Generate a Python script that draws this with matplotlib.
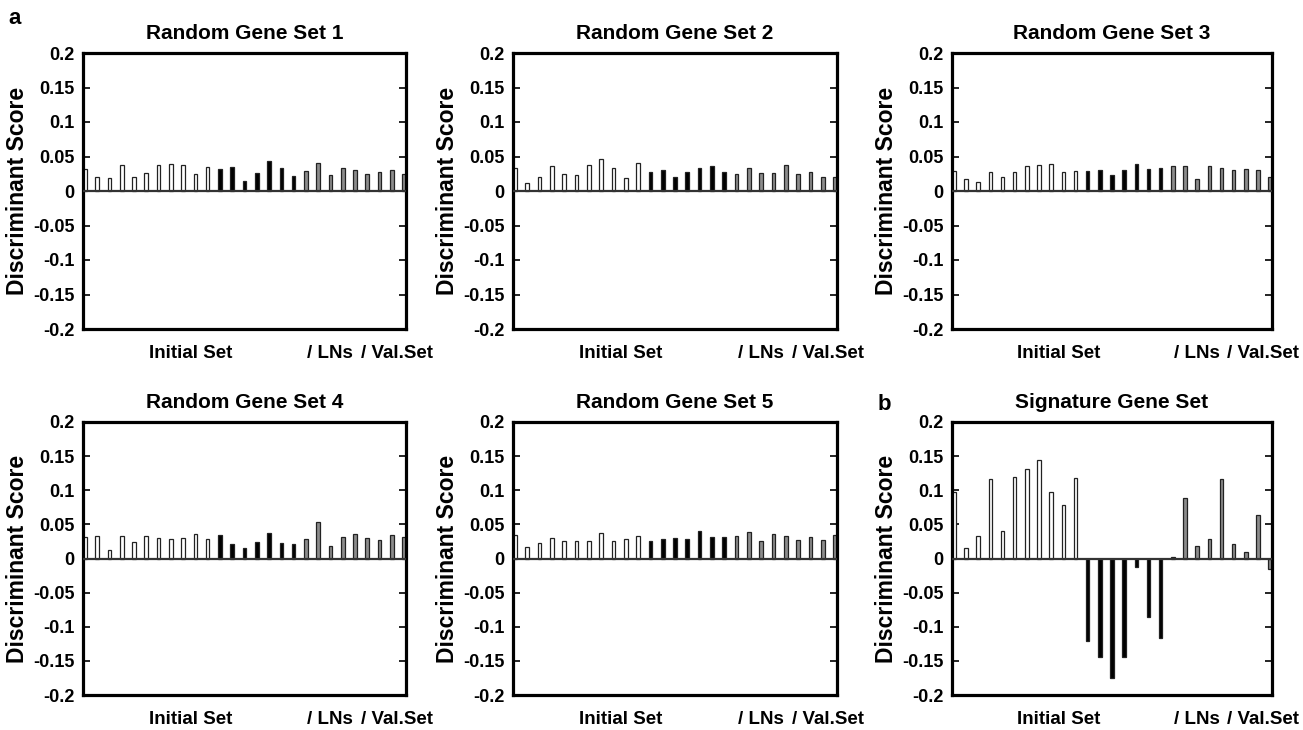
import numpy as np
import matplotlib
matplotlib.use("Agg")
import matplotlib.pyplot as plt

plt.rcParams['font.family'] = ['Liberation Sans', 'DejaVu Sans']
plt.rcParams['font.weight'] = 'bold'

# discriminant score for each of the 27 samples, per gene set
set1 = [0.032, 0.021, 0.019, 0.038, 0.021, 0.026, 0.037, 0.039, 0.037, 0.024, 0.035, 0.032, 0.035, 0.015,
        0.026, 0.043, 0.034, 0.022, 0.029, 0.041, 0.023, 0.033, 0.030, 0.024, 0.028, 0.030, 0.025]
set2 = [0.034, 0.011, 0.020, 0.036, 0.024, 0.023, 0.037, 0.046, 0.034, 0.019, 0.041, 0.027, 0.030, 0.021,
        0.028, 0.034, 0.036, 0.028, 0.024, 0.034, 0.026, 0.026, 0.038, 0.025, 0.027, 0.020, 0.021]
set3 = [0.029, 0.018, 0.013, 0.028, 0.020, 0.027, 0.036, 0.038, 0.039, 0.027, 0.029, 0.029, 0.031, 0.023,
        0.030, 0.039, 0.032, 0.033, 0.036, 0.036, 0.018, 0.036, 0.034, 0.030, 0.032, 0.031, 0.020]
set4 = [0.031, 0.033, 0.013, 0.033, 0.024, 0.033, 0.030, 0.028, 0.030, 0.036, 0.028, 0.035, 0.021, 0.016,
        0.024, 0.038, 0.022, 0.021, 0.028, 0.054, 0.018, 0.031, 0.036, 0.030, 0.027, 0.034, 0.031]
set5 = [0.034, 0.017, 0.023, 0.030, 0.025, 0.025, 0.025, 0.038, 0.026, 0.029, 0.033, 0.025, 0.028, 0.030,
        0.029, 0.041, 0.031, 0.031, 0.033, 0.039, 0.025, 0.036, 0.033, 0.027, 0.031, 0.027, 0.034]
signature = [0.098, 0.016, 0.033, 0.116, 0.040, 0.119, 0.131, 0.145, 0.097, 0.078, 0.118, -0.121, -0.144,
             -0.175, -0.144, -0.012, -0.085, -0.116, 0.002, 0.088, 0.019, 0.028, 0.117, 0.021, 0.009, 0.064,
             -0.015]

titles = ['Random Gene Set 1', 'Random Gene Set 2', 'Random Gene Set 3',
          'Random Gene Set 4', 'Random Gene Set 5', 'Signature Gene Set']
yticks = [0.2, 0.15, 0.1, 0.05, 0, -0.05, -0.1, -0.15, -0.2]
ytick_labels = ['0.2', '0.15', '0.1', '0.05', '0', '-0.05', '-0.1', '-0.15', '-0.2']

all_sets = [set1, set2, set3, set4, set5, signature]

W, H = 1303, 730
fig = plt.figure(figsize=(W / 100, H / 100), dpi=100)

# axes boxes in pixels: left, top, right, bottom
lefts = [83, 513, 952]
rights = [406, 837, 1272]
rows = [(53, 329), (422, 695)]

for k, vals in enumerate(all_sets):
    r, c = divmod(k, 3)
    top, bot = rows[r]
    ax = fig.add_axes([lefts[c] / W, 1 - bot / H, (rights[c] - lefts[c]) / W, (bot - top) / H])

    x = np.arange(len(vals))
    # bar fill depends on the sample group
    faces = ['white' if i <= 10 else ('black' if i <= 17 else '#8c8c8c') for i in x]
    ax.bar(x, vals, width=0.3, color=faces, edgecolor='#222222', linewidth=0.9, zorder=2)
    ax.axhline(0, color='#333333', lw=1.6, zorder=3)

    ax.set_xlim(-0.15, len(vals) - 0.85)
    ax.set_ylim(-0.2, 0.2)
    ax.set_xticks([])
    ax.set_yticks(yticks)
    ax.set_yticklabels(ytick_labels)
    ax.tick_params(axis='y', direction='in', length=5, width=1.2, right=True,
                   labelsize=13, pad=6)
    for s in ax.spines.values():
        s.set_linewidth(2.3)
    ax.set_title(titles[k], fontsize=15, fontweight='bold', pad=10)
    ax.set_ylabel('Discriminant Score', fontsize=16.5, fontweight='bold', labelpad=3)

    ax.text(0.333, -0.09, 'Initial Set', transform=ax.transAxes, ha='center', va='center',
            fontsize=13.5, fontweight='bold')
    ax.text(0.695, -0.09, '/ LNs', transform=ax.transAxes, ha='left', va='center',
            fontsize=13.5, fontweight='bold')
    ax.text(0.86, -0.09, '/ Val.Set', transform=ax.transAxes, ha='left', va='center',
            fontsize=13.5, fontweight='bold')

fig.text(8 / W, 1 - 19 / H, 'a', fontsize=16, fontweight='bold', va='center', ha='left')
fig.text(878 / W, 1 - 405 / H, 'b', fontsize=16, fontweight='bold', va='center', ha='left')

fig.savefig('out.png', dpi=100)
